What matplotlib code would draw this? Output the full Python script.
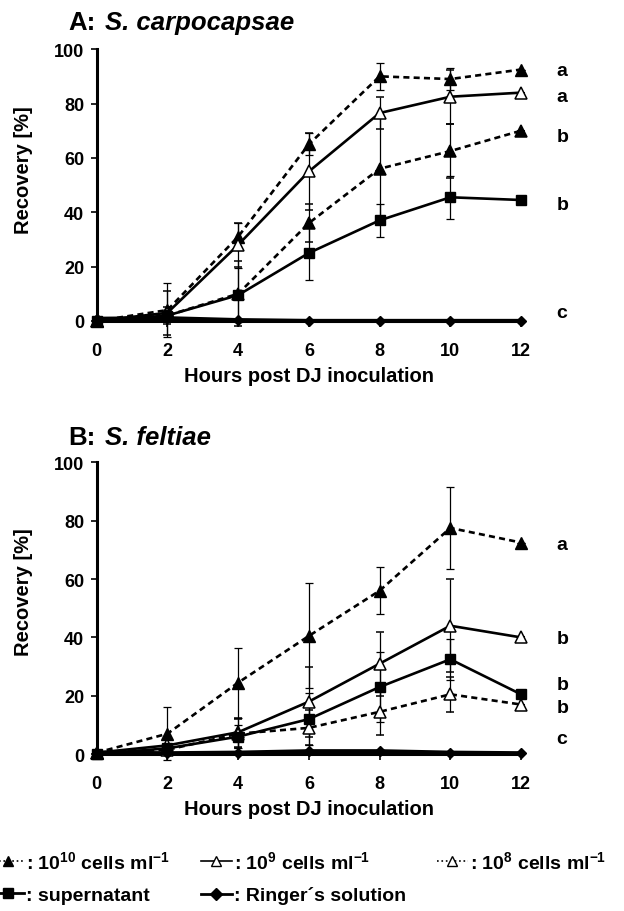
import matplotlib
matplotlib.use("Agg")
import matplotlib.pyplot as plt
from matplotlib.lines import Line2D

plt.rcParams['font.family'] = ['Liberation Sans', 'DejaVu Sans']
plt.rcParams['font.weight'] = 'bold'
plt.rcParams['mathtext.fontset'] = 'custom'
plt.rcParams['mathtext.bf'] = 'Liberation Sans:bold'
plt.rcParams['mathtext.rm'] = 'Liberation Sans:bold'
plt.rcParams['mathtext.default'] = 'bf'

hours = [0, 2, 4, 6, 8, 10, 12]

# panel A: S. carpocapsae
a_e10 = [0, 4, 31, 65, 90, 89, 92.5]
a_e10_err = [0.5, 10, 5, 4, 5, 4, 0]
a_e9 = [0, 3, 28, 55, 76.5, 82.5, 84]
a_e9_err = [0.5, 8, 8, 14, 6, 10, 0]
a_e8 = [0, 2, 10, 36, 56, 62.5, 70]
a_e8_err = [0.5, 3, 12, 7, 20, 10, 0]
a_sup = [0, 2, 9.5, 25, 37, 45.5, 44.5]
a_sup_err = [0.5, 2, 10, 10, 6, 8, 0]
a_ring = [0.8, 1, 0.3, 0, 0, 0, 0]
a_letters = ['a', 'a', 'b', 'b', 'c']
a_letter_y = [92, 82.5, 68, 43, 3]

# panel B: S. feltiae
b_e10 = [0.5, 7, 24.5, 40.5, 56, 77.5, 72.5]
b_e10_err = [1, 9, 12, 18, 8, 14, 0]
b_e9 = [0.5, 3, 7.5, 18, 31, 44, 40]
b_e9_err = [1, 2, 5, 12, 11, 16, 0]
b_e8 = [0.5, 1.5, 7, 9, 14.5, 20.5, 17]
b_e8_err = [1, 1, 5, 6, 8, 6, 0]
b_sup = [0, 2, 6, 12, 23, 32.5, 20.5]
b_sup_err = [0.5, 1, 4, 9, 12, 7, 0]
b_ring = [0.5, 0.3, 0.5, 1, 1, 0.5, 0.3]
b_letters = ['a', 'b', 'b', 'b', 'c']
b_letter_y = [72, 39.5, 24, 16, 5.5]

legend_labels = [': $10^{10}$ cells ml$^{-1}$', ': $10^{9}$ cells ml$^{-1}$',
                 ': $10^{8}$ cells ml$^{-1}$', ': supernatant', u': Ringer\u00b4s solution']

dash = (0, (2.3, 1.6))
lw = 1.9


def draw_panel(ax, e10, e10e, e9, e9e, e8, e8e, sup, supe, ring, letters, letter_y, e8_filled):
    eb = dict(ecolor='black', elinewidth=0.9, capsize=3, capthick=0.9, clip_on=False, zorder=3)
    ax.errorbar(hours, e10, yerr=e10e, color='black', lw=lw, ls=dash, marker='^', ms=8,
                mfc='black', mec='black', **eb)
    ax.errorbar(hours, e9, yerr=e9e, color='black', lw=lw, ls='-', marker='^', ms=8,
                mfc='white', mec='black', mew=1.1, **eb)
    ax.errorbar(hours, e8, yerr=e8e, color='black', lw=lw, ls=dash, marker='^', ms=8,
                mfc='black' if e8_filled else 'white', mec='black', mew=1.1, **eb)
    ax.errorbar(hours, sup, yerr=supe, color='black', lw=lw, ls='-', marker='s', ms=7,
                mfc='black', mec='black', **eb)
    ax.plot(hours, ring, color='black', lw=3, marker='D', ms=5, clip_on=False, zorder=4)
    for t, y in zip(letters, letter_y):
        ax.text(13.0, y, t, fontsize=14, fontweight='bold', va='center', ha='left')
    ax.set_xlim(0, 12)
    ax.set_ylim(0, 100)
    ax.set_xticks(hours)
    ax.set_yticks([0, 20, 40, 60, 80, 100])
    ax.spines['top'].set_visible(False)
    ax.spines['right'].set_visible(False)
    ax.spines['left'].set_linewidth(2.2)
    ax.spines['bottom'].set_linewidth(2.2)
    ax.tick_params(labelsize=13, width=1.2, length=4)
    ax.tick_params(axis='x', pad=11)
    ax.tick_params(axis='y', pad=5)
    for lab in ax.get_xticklabels() + ax.get_yticklabels():
        lab.set_fontweight('bold')
    ax.set_ylabel('Recovery [%]', fontsize=14.5, fontweight='bold')
    ax.yaxis.set_label_coords(-0.15, 0.56)
    ax.set_xlabel('Hours post DJ inoculation', fontsize=14.5, fontweight='bold', labelpad=5)


fig = plt.figure(figsize=(6.24, 9.12), dpi=100)
ax1 = fig.add_axes([0.155, 0.647, 0.680, 0.298])
ax2 = fig.add_axes([0.155, 0.172, 0.680, 0.320])

draw_panel(ax1, a_e10, a_e10_err, a_e9, a_e9_err, a_e8, a_e8_err, a_sup, a_sup_err,
           a_ring, a_letters, a_letter_y, True)
draw_panel(ax2, b_e10, b_e10_err, b_e9, b_e9_err, b_e8, b_e8_err, b_sup, b_sup_err,
           b_ring, b_letters, b_letter_y, False)

fig.text(68 / 624, 1 - 30 / 912, 'A:', fontsize=18.5, fontweight='bold')
fig.text(105 / 624, 1 - 30 / 912, 'S. carpocapsae', fontsize=18.5, fontweight='bold', style='italic')
fig.text(68 / 624, 1 - 445 / 912, 'B:', fontsize=18.5, fontweight='bold')
fig.text(105 / 624, 1 - 445 / 912, 'S. feltiae', fontsize=18.5, fontweight='bold', style='italic')

h_e10 = Line2D([], [], color='black', lw=1.2, ls=':', marker='^', ms=7, mfc='black')
h_e9 = Line2D([], [], color='black', lw=1.2, ls='-', marker='^', ms=7, mfc='white')
h_e8 = Line2D([], [], color='black', lw=1.2, ls=':', marker='^', ms=7, mfc='white')
h_sup = Line2D([], [], color='black', lw=2, ls='-', marker='s', ms=7, mfc='black')
h_ring = Line2D([], [], color='black', lw=2, ls='-', marker='D', ms=6, mfc='black')

# order so rows read: 10^10, 10^9, 10^8 / supernatant, Ringer
fig.legend([h_e10, h_sup, h_e9, h_ring, h_e8],
           [legend_labels[0], legend_labels[3], legend_labels[1], legend_labels[4], legend_labels[2]],
           ncol=3, loc='lower left', bbox_to_anchor=(-0.04, -0.012), frameon=False,
           handlelength=1.6, handletextpad=0.1, columnspacing=1.6,
           labelspacing=0.75, prop={'weight': 'bold', 'size': 14})

fig.savefig('out.png', dpi=100)
